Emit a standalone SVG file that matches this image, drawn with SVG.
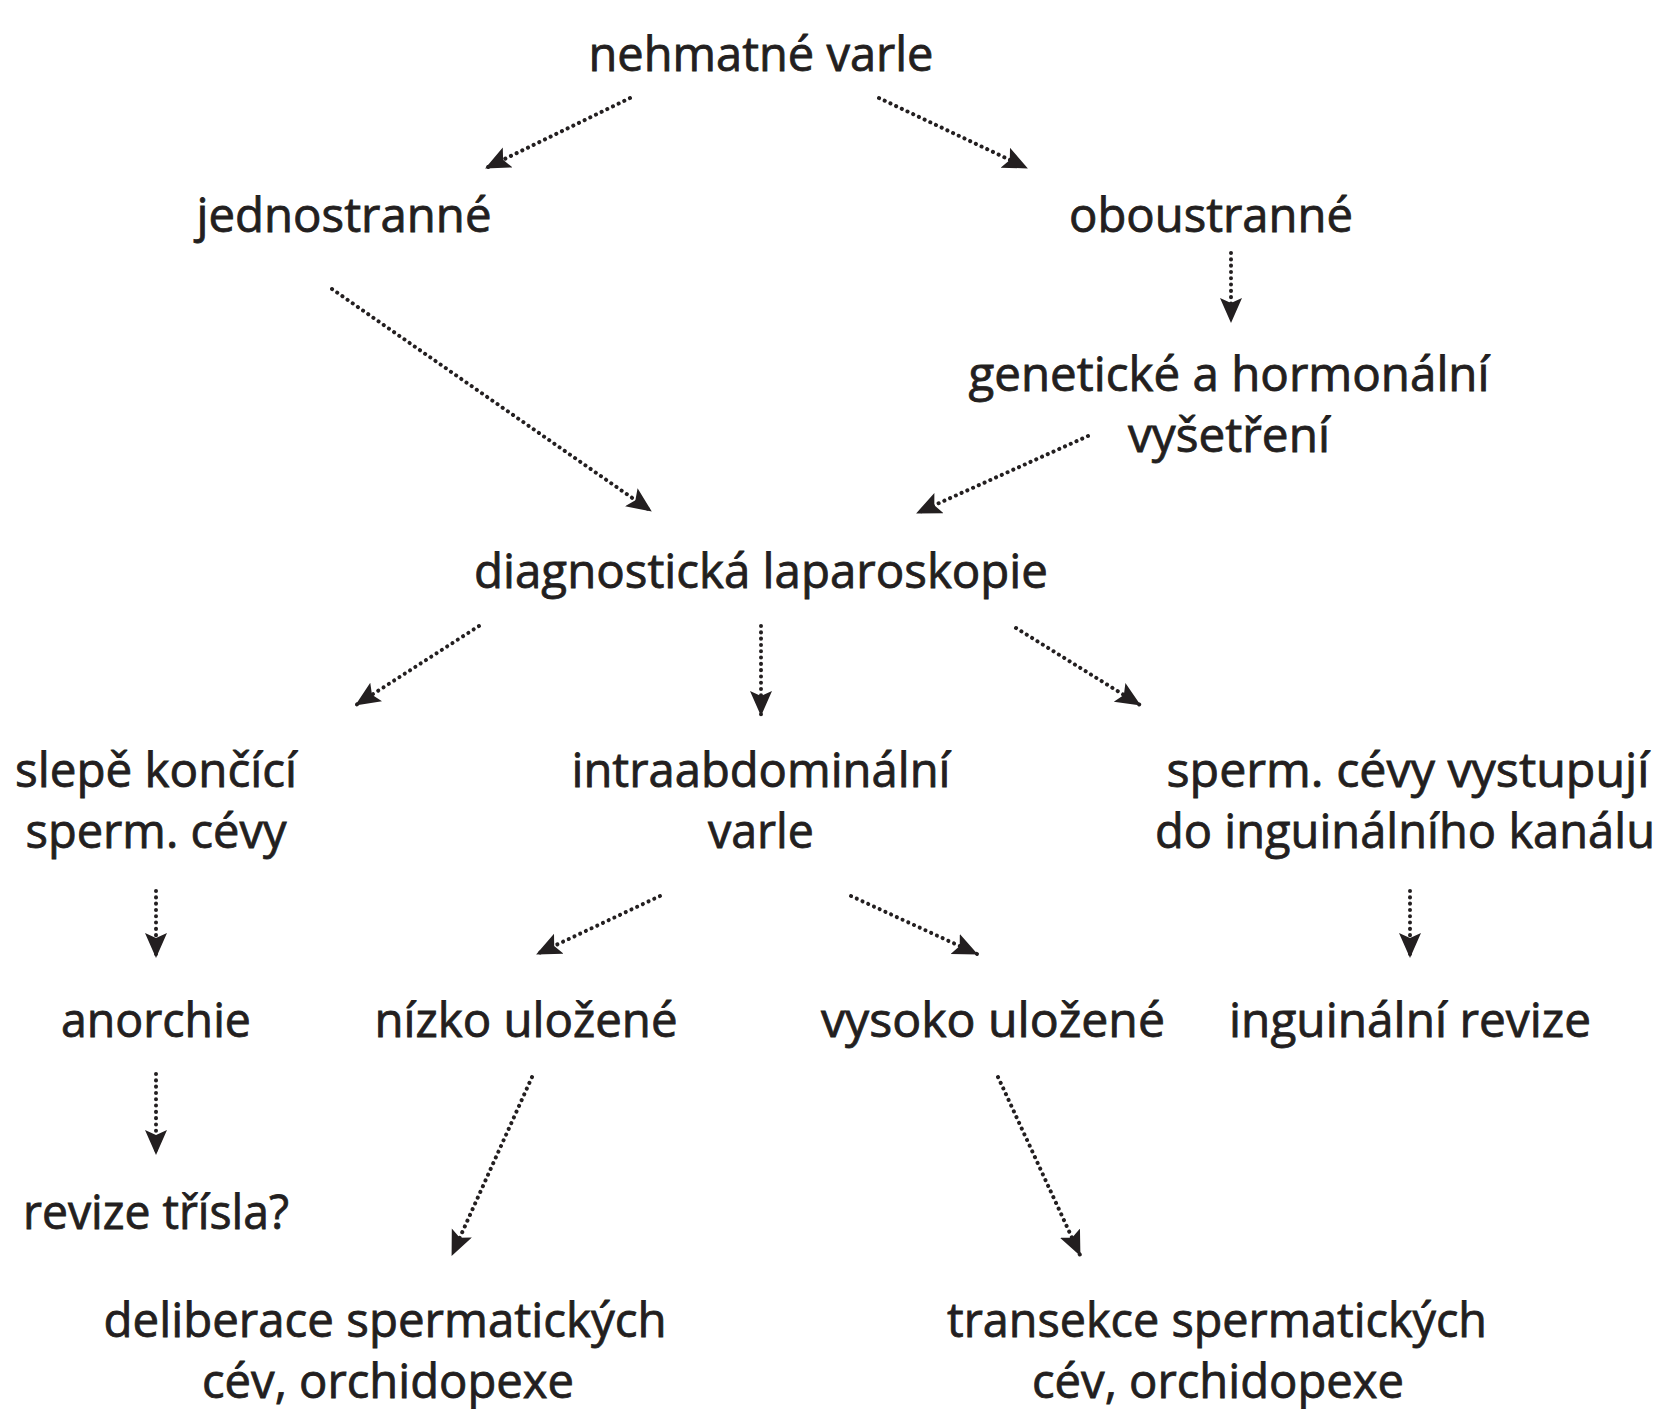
<svg xmlns="http://www.w3.org/2000/svg" width="1668" height="1409" viewBox="0 0 1668 1409">
<defs>
<marker id="ah" markerUnits="userSpaceOnUse" markerWidth="28" markerHeight="24" refX="24" refY="11" orient="auto">
<path d="M0,0 L25,11 L0,22 L5,11 z" fill="#231f20"/>
</marker>
<style>
text{font-family:"Open Sans","Noto Sans","DejaVu Sans",sans-serif;font-size:47px;fill:#231f20;stroke:#231f20;stroke-width:0.8;text-anchor:middle}
.c{fill:none;stroke:#231f20;stroke-width:4;stroke-linecap:round;stroke-dasharray:0.1 6.2;marker-end:url(#ah)}
</style>
</defs>
<rect width="1668" height="1409" fill="#ffffff"/>
<g id="connectors">
<line class="c" x1="630" y1="98" x2="486" y2="168"/>
<line class="c" x1="879" y1="98" x2="1027" y2="168"/>
<line class="c" x1="332" y1="289" x2="651" y2="511"/>
<line class="c" x1="1231" y1="253" x2="1231" y2="322"/>
<line class="c" x1="1088" y1="436" x2="917" y2="513"/>
<line class="c" x1="479" y1="626" x2="356" y2="705"/>
<line class="c" x1="761" y1="626" x2="761" y2="715"/>
<line class="c" x1="1016" y1="628" x2="1140" y2="705"/>
<line class="c" x1="156" y1="891" x2="156" y2="957"/>
<line class="c" x1="660" y1="896" x2="537" y2="954"/>
<line class="c" x1="851" y1="896" x2="977" y2="954"/>
<line class="c" x1="1410" y1="891" x2="1410" y2="957"/>
<line class="c" x1="156" y1="1074" x2="156" y2="1154"/>
<line class="c" x1="532" y1="1077" x2="452" y2="1255"/>
<line class="c" x1="998" y1="1077" x2="1080" y2="1255"/>
</g>
<g id="n1"><text x="761" y="71" textLength="345" lengthAdjust="spacingAndGlyphs">nehmatné varle</text></g>
<g id="n2"><text x="344" y="232" textLength="295" lengthAdjust="spacingAndGlyphs">jednostranné</text></g>
<g id="n3"><text x="1211" y="232" textLength="284" lengthAdjust="spacingAndGlyphs">oboustranné</text></g>
<g id="n4"><text x="1229" y="391" textLength="521" lengthAdjust="spacingAndGlyphs">genetické a hormonální</text><text x="1229" y="452" textLength="202" lengthAdjust="spacingAndGlyphs">vyšetření</text></g>
<g id="n5"><text x="761" y="588" textLength="574" lengthAdjust="spacingAndGlyphs">diagnostická laparoskopie</text></g>
<g id="n6"><text x="156" y="787" textLength="282" lengthAdjust="spacingAndGlyphs">slepě končící</text><text x="156" y="848" textLength="261" lengthAdjust="spacingAndGlyphs">sperm. cévy</text></g>
<g id="n7"><text x="761" y="787" textLength="379" lengthAdjust="spacingAndGlyphs">intraabdominální</text><text x="761" y="848" textLength="106" lengthAdjust="spacingAndGlyphs">varle</text></g>
<g id="n8"><text x="1408" y="787" textLength="483" lengthAdjust="spacingAndGlyphs">sperm. cévy vystupují</text><text x="1405" y="848" textLength="500" lengthAdjust="spacingAndGlyphs">do inguinálního kanálu</text></g>
<g id="n9"><text x="156" y="1037" textLength="190" lengthAdjust="spacingAndGlyphs">anorchie</text></g>
<g id="n10"><text x="526" y="1037" textLength="303" lengthAdjust="spacingAndGlyphs">nízko uložené</text></g>
<g id="n11"><text x="993" y="1037" textLength="344" lengthAdjust="spacingAndGlyphs">vysoko uložené</text></g>
<g id="n12"><text x="1410" y="1037" textLength="362" lengthAdjust="spacingAndGlyphs">inguinální revize</text></g>
<g id="n13"><text x="156" y="1229" textLength="266" lengthAdjust="spacingAndGlyphs">revize třísla?</text></g>
<g id="n14"><text x="385" y="1337" textLength="563" lengthAdjust="spacingAndGlyphs">deliberace spermatických</text><text x="388" y="1398" textLength="372" lengthAdjust="spacingAndGlyphs">cév, orchidopexe</text></g>
<g id="n15"><text x="1217" y="1337" textLength="540" lengthAdjust="spacingAndGlyphs">transekce spermatických</text><text x="1218" y="1398" textLength="372" lengthAdjust="spacingAndGlyphs">cév, orchidopexe</text></g>
</svg>
